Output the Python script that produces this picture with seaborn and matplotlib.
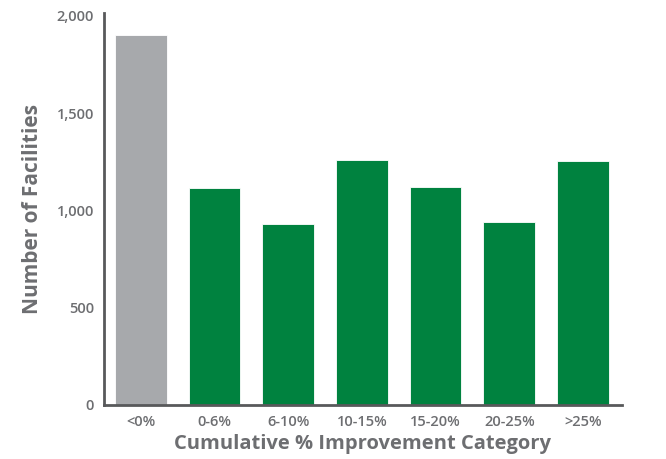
import matplotlib

matplotlib.use("Agg")
import matplotlib.pyplot as plt
import pandas as pd
import seaborn as sns

# valores
categories = ["<0%", "0-6%", "6-10%", "10-15%", "15-20%", "20-25%", ">25%"]
facilities = [1900, 1115, 930, 1260, 1120, 940, 1255]
bar_colors = ["#a7a9ac", "#00823f", "#00823f", "#00823f", "#00823f", "#00823f", "#00823f"]

df = pd.DataFrame({"category": categories, "facilities": facilities})

sns.set_style("white")
plt.rcParams["font.family"] = ["Open Sans", "DejaVu Sans"]

text_color = "#6d6e71"

fig = plt.figure(figsize=(6.66, 4.59), dpi=100)
ax = fig.add_axes([0.156, 0.118, 0.778, 0.854])

sns.barplot(
    data=df, x="category", y="facilities", hue="category",
    palette=bar_colors, saturation=1, legend=False, width=0.70, ax=ax,
    edgecolor="white", linewidth=0.6,
)

ax.set_xlim(-0.5, 6.53)
ax.set_ylim(0, 2015)
ax.set_yticks([0, 500, 1000, 1500, 2000])
ax.set_yticklabels(["0", "500", "1,000", "1,500", "2,000"])

for side in ["top", "right"]:
    ax.spines[side].set_visible(False)
for side in ["left", "bottom"]:
    ax.spines[side].set_color("#58595b")
    ax.spines[side].set_linewidth(2)

ax.tick_params(axis="both", length=0, labelcolor=text_color, labelsize=10.5, pad=7)
for lbl in ax.get_xticklabels() + ax.get_yticklabels():
    lbl.set_fontweight("semibold")

ax.set_xlabel("Cumulative % Improvement Category", fontsize=14.5,
              fontweight="bold", color=text_color, labelpad=4)
ax.set_ylabel("Number of Facilities", fontsize=15,
              fontweight="bold", color=text_color, labelpad=10)

fig.savefig("out.png", dpi=100)
plt.close(fig)
